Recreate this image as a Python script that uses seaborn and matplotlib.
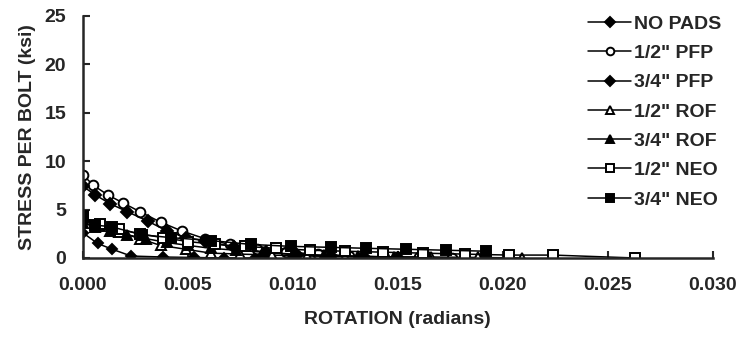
import numpy as np
import pandas as pd
import matplotlib
matplotlib.use("Agg")
import matplotlib.pyplot as plt
import seaborn as sns

# rotation (radians) and stress per bolt (ksi)
no_pads_x = [0.0, 0.0007, 0.0014, 0.0023, 0.0038, 0.0053, 0.0067, 0.0082]
no_pads_y = [2.6, 1.5, 0.9, 0.2, 0.1, 0.05, 0.0, 0.0]

pfp12_x = [0.0, 0.0005, 0.0012, 0.0019, 0.0027, 0.0037, 0.0047, 0.0058, 0.0070,
           0.0083, 0.0097, 0.0112, 0.0127, 0.0143, 0.0160, 0.0176]
pfp12_y = [8.6, 7.5, 6.5, 5.7, 4.8, 3.7, 2.8, 2.0, 1.4, 0.9, 0.6, 0.4, 0.2, 0.1, 0.05, 0.0]

pfp34_x = [0.0, 0.0006, 0.0013, 0.0021, 0.0031, 0.0040, 0.0049, 0.0058, 0.0072,
           0.0087, 0.0102, 0.0118, 0.0134, 0.0150]
pfp34_y = [7.4, 6.5, 5.6, 4.8, 3.8, 2.8, 2.1, 1.8, 1.1, 0.6, 0.3, 0.2, 0.1, 0.0]

rof12_x = [0.0, 0.0008, 0.0017, 0.0027, 0.0037, 0.0049, 0.0061, 0.0075, 0.0090,
           0.0107, 0.0125, 0.0145, 0.0166, 0.0188, 0.0209]
rof12_y = [4.0, 3.3, 2.7, 2.0, 1.3, 0.9, 0.5, 0.4, 0.3, 0.2, 0.15, 0.1, 0.1, 0.05, 0.0]

rof34_x = [0.0, 0.0006, 0.0013, 0.0021, 0.0030, 0.0040, 0.0050, 0.0061, 0.0073,
           0.0086, 0.0100, 0.0115, 0.0131, 0.0148, 0.0165]
rof34_y = [3.6, 3.2, 2.8, 2.4, 2.0, 1.6, 1.3, 1.0, 0.8, 0.6, 0.4, 0.3, 0.2, 0.1, 0.05]

neo12_x = [0.0, 0.0008, 0.0017, 0.0027, 0.0038, 0.0050, 0.0063, 0.0077, 0.0092,
           0.0108, 0.0125, 0.0143, 0.0162, 0.0182, 0.0203, 0.0224, 0.0263]
neo12_y = [4.2, 3.5, 3.0, 2.5, 2.1, 1.7, 1.4, 1.2, 1.0, 0.8, 0.7, 0.6, 0.5, 0.4, 0.3, 0.3, 0.0]

neo34_x = [0.0, 0.0006, 0.0014, 0.0028, 0.0042, 0.0061, 0.0080, 0.0099, 0.0118,
           0.0135, 0.0154, 0.0173, 0.0192]
neo34_y = [4.3, 3.4, 3.2, 2.4, 2.1, 1.8, 1.4, 1.2, 1.1, 1.0, 0.9, 0.8, 0.7]

labels = ['NO PADS', '1/2" PFP', '3/4" PFP', '1/2" ROF', '3/4" ROF', '1/2" NEO', '3/4" NEO']
xs = [no_pads_x, pfp12_x, pfp34_x, rof12_x, rof34_x, neo12_x, neo34_x]
ys = [no_pads_y, pfp12_y, pfp34_y, rof12_y, rof34_y, neo12_y, neo34_y]

markers = ['D', 'o', 'D', '^', '^', 's', 's']
faces = ['black', 'white', 'black', 'white', 'black', 'white', 'black']
sizes = [5.5, 7, 6, 7, 7, 6.5, 6.5]

sns.set_style("ticks")
plt.rcParams['font.family'] = ['Liberation Sans', 'DejaVu Sans']
plt.rcParams['font.weight'] = 'bold'

fig, ax = plt.subplots(figsize=(7.4, 3.39), dpi=100)
fig.subplots_adjust(left=0.112, right=0.963, top=0.953, bottom=0.239)

for lab, x, y, m, fc, ms in zip(labels, xs, ys, markers, faces, sizes):
    df = pd.DataFrame({'rot': x, 'stress': y})
    sns.lineplot(data=df, x='rot', y='stress', ax=ax, color='black', lw=1.1,
                 marker=m, markersize=ms, markerfacecolor=fc,
                 markeredgecolor='black', markeredgewidth=1.4,
                 estimator=None, sort=False, label=lab)

ax.set_xlim(0, 0.030)
ax.set_ylim(0, 25)
ax.set_xticks(np.arange(0, 0.0301, 0.005))
ax.set_xticklabels([f"{v:.3f}" for v in np.arange(0, 0.0301, 0.005)])
ax.set_yticks(range(0, 26, 5))
ax.tick_params(direction='in', length=5, width=1.5, labelsize=14)
ax.tick_params(axis='x', pad=14)
ax.tick_params(axis='y', pad=12)
for s in ['left', 'bottom']:
    ax.spines[s].set_linewidth(1.8)
sns.despine(ax=ax)

ax.set_xlabel('ROTATION (radians)', fontsize=14, fontweight='bold', labelpad=12)
ax.set_ylabel('STRESS PER BOLT (ksi)', fontsize=14, fontweight='bold', labelpad=6)

leg = ax.legend(loc='upper left', bbox_to_anchor=(0.79, 1.035), frameon=False,
                fontsize=14, handlelength=2.2, handletextpad=0.15, labelspacing=0.6,
                borderaxespad=0)
for h in leg.legend_handles:
    h.set_markersize(5.5)

fig.savefig('out.png', dpi=100)
